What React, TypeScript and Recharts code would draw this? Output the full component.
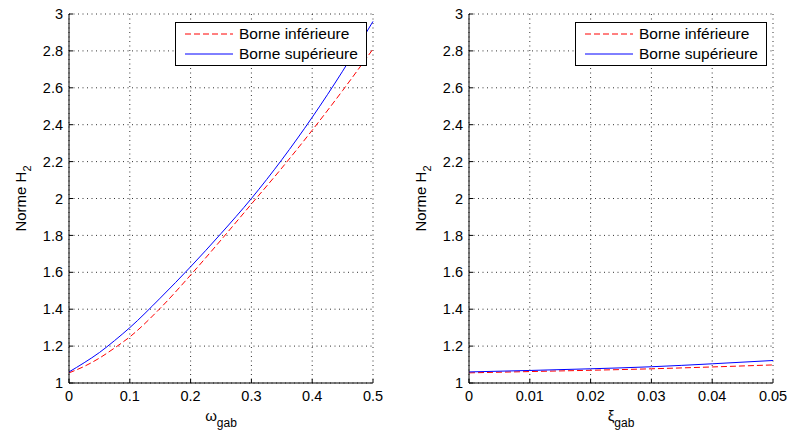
import React from "react";
import { LineChart, Line, XAxis, YAxis, CartesianGrid, Legend } from "recharts";

const FONT = '"Liberation Sans", Arial, Helvetica, sans-serif';

// left panel: omega_gab sweep
const omegaGab = [0, 0.025, 0.05, 0.075, 0.1, 0.15, 0.2, 0.25, 0.3, 0.35, 0.4, 0.45, 0.5];
const omegaUpper = [1.06, 1.11, 1.165, 1.23, 1.3, 1.46, 1.63, 1.81, 2.0, 2.21, 2.44, 2.69, 2.96];
const omegaLower = [1.055, 1.09, 1.135, 1.19, 1.25, 1.405, 1.585, 1.775, 1.97, 2.165, 2.37, 2.585, 2.81];
const omegaTicks = [0, 0.1, 0.2, 0.3, 0.4, 0.5];

// right panel: xi_gab sweep
const xiGab = [0, 0.01, 0.02, 0.03, 0.04, 0.05];
const xiUpper = [1.06, 1.068, 1.077, 1.088, 1.104, 1.122];
const xiLower = [1.055, 1.062, 1.069, 1.077, 1.087, 1.098];
const xiTicks = [0, 0.01, 0.02, 0.03, 0.04, 0.05];

const normTicks = [1, 1.2, 1.4, 1.6, 1.8, 2, 2.2, 2.4, 2.6, 2.8, 3];

const seriesNames = { lower: "Borne inférieure", upper: "Borne supérieure" };

function LegendBox() {
  const row = (dashed: boolean, color: string, text: string) => (
    <div style={{ display: "flex", alignItems: "center", height: 20 }}>
      <svg width={48} height={4} style={{ marginRight: 6 }}>
        <line x1={0} y1={2} x2={48} y2={2} stroke={color} strokeWidth={1} strokeDasharray={dashed ? "6 3" : undefined} />
      </svg>
      <span>{text}</span>
    </div>
  );
  return (
    <div
      style={{
        border: "1px solid #000",
        background: "#fff",
        padding: "1px 4px 0 9px",
        fontFamily: FONT,
        fontSize: 15.5,
        lineHeight: "20px",
        color: "#000",
        boxSizing: "border-box",
        width: 192,
        height: 44,
        whiteSpace: "nowrap",
      }}
    >
      {row(true, "#ff0000", seriesNames.lower)}
      {row(false, "#0000ff", seriesNames.upper)}
    </div>
  );
}

function SubPlot({
  x,
  upper,
  lower,
  xTicks,
  xMax,
  xSymbol,
  width,
}: {
  x: number[];
  upper: number[];
  lower: number[];
  xTicks: number[];
  xMax: number;
  xSymbol: string;
  width: number;
}) {
  const rows = x.map((v, i) => ({ x: v, upper: upper[i], lower: lower[i] }));
  const tickStyle = { fill: "#000", fontSize: 14.5, fontFamily: FONT };
  return (
    <LineChart width={width} height={437} data={rows} margin={{ top: 14, right: width - 373, bottom: 0, left: 39 }}>
      <CartesianGrid stroke="#333" strokeDasharray="1 3.5" />
      <XAxis
        type="number"
        dataKey="x"
        domain={[0, xMax]}
        ticks={xTicks}
        interval={0}
        tick={tickStyle}
        tickSize={-4}
        tickMargin={12}
        tickLine={{ stroke: "#000" }}
        axisLine={{ stroke: "#000" }}
        height={54}
        label={{
          content: (p: any) => {
            const vb = p.viewBox;
            return (
              <text x={vb.x + vb.width / 2} y={vb.y + 38} textAnchor="middle" fontFamily={FONT} fontSize={15} fill="#000">
                {xSymbol}
                <tspan fontSize={12} dy={6}>gab</tspan>
              </text>
            );
          },
        }}
      />
      <YAxis
        type="number"
        domain={[1, 3]}
        ticks={normTicks}
        interval={0}
        tick={tickStyle}
        tickSize={-4}
        tickMargin={10}
        tickLine={{ stroke: "#000" }}
        axisLine={{ stroke: "#000" }}
        width={30}
        label={{
          content: (p: any) => {
            const vb = p.viewBox;
            const cx = vb.x - 13;
            const cy = vb.y + vb.height / 2;
            return (
              <text x={cx} y={cy} transform={`rotate(-90, ${cx}, ${cy})`} textAnchor="middle" fontFamily={FONT} fontSize={15} fill="#000">
                Norme H
                <tspan fontSize={11} dy={5}>2</tspan>
              </text>
            );
          },
        }}
      />
      <Legend
        layout="vertical"
        align="center"
        verticalAlign="middle"
        content={() => <LegendBox />}
        wrapperStyle={{ position: "absolute", left: 175, top: 22, width: "auto", height: "auto" }}
      />
      <Line
        type="monotone"
        dataKey="lower"
        name={seriesNames.lower}
        stroke="#ff0000"
        strokeWidth={1}
        strokeDasharray="6 3"
        dot={false}
        isAnimationActive={false}
      />
      <Line
        type="monotone"
        dataKey="upper"
        name={seriesNames.upper}
        stroke="#0000ff"
        strokeWidth={1}
        dot={false}
        isAnimationActive={false}
      />
    </LineChart>
  );
}

export default function App() {
  return (
    <div style={{ position: "absolute", left: 0, top: 0, width: 790, height: 437, background: "#fff" }}>
      <div style={{ position: "absolute", left: 0, top: 0 }}>
        <SubPlot x={omegaGab} upper={omegaUpper} lower={omegaLower} xTicks={omegaTicks} xMax={0.5} xSymbol="ω" width={400} />
      </div>
      <div style={{ position: "absolute", left: 400, top: 0 }}>
        <SubPlot x={xiGab} upper={xiUpper} lower={xiLower} xTicks={xiTicks} xMax={0.05} xSymbol="ξ" width={390} />
      </div>
    </div>
  );
}
